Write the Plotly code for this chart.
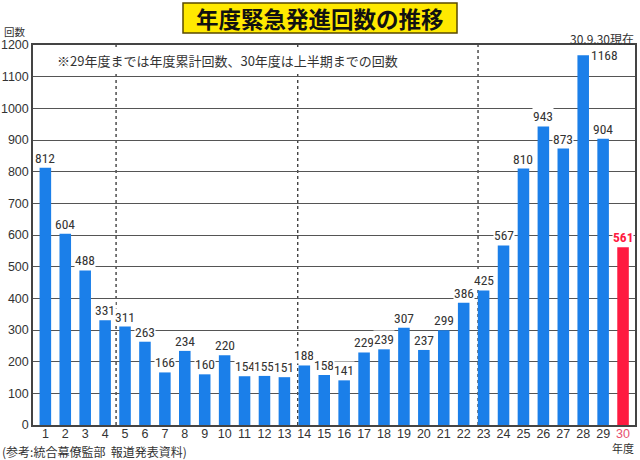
import plotly.graph_objects as go

years = list(range(1, 31))
counts = [812, 604, 488, 331, 311, 263, 166, 234, 160, 220, 154, 155, 151, 188, 158,
          141, 229, 239, 307, 237, 299, 386, 425, 567, 810, 943, 873, 1168, 904, 561]
tick_labels = [str(y) for y in years[:-1]] + ['<span style="color:#e8506e">30</span>']
divider_positions = [4.55, 13.67, 22.72]

BLUE = "#1b7fe9"
RED = "#ff1a40"
CJK = "Noto Sans CJK JP"
NUM = "Liberation Sans, Arial, sans-serif"
NARROW = "Liberation Sans Narrow, Arial Narrow, Roboto Condensed, Liberation Sans, sans-serif"

colors = [BLUE] * (len(counts) - 1) + [RED]

L, R, T, B = 33, 5, 45, 35
W, H = 640, 460
pw, ph = W - L - R, H - T - B
YMAX = 1200


def px(x):
    return (x - L) / pw


def py(y):
    return (H - B - y) / ph


fig = go.Figure()
fig.add_trace(go.Bar(x=years, y=counts, marker_color=colors, marker_line_width=0,
                     width=0.58, hoverinfo="x+y"))

annotations = []
for x, v in zip(years, counts):
    last = x == years[-1]
    font = dict(family=NARROW, size=13.5, color=RED if last else "#333333")
    text = ("<b>%d</b>" % v) if last else str(v)
    if v > YMAX * 0.92:
        # label next to the bar when the bar nearly reaches the top
        annotations.append(dict(x=x + 0.32, y=v, xref="x", yref="y", text=text,
                                showarrow=False, xanchor="left", yanchor="middle",
                                bgcolor="white", borderpad=0, font=font))
    else:
        annotations.append(dict(x=x, y=v, xref="x", yref="y", text=text,
                                showarrow=False, xanchor="center", yanchor="bottom",
                                yshift=1, bgcolor="white", borderpad=0, font=font))

annotations += [
    dict(x=px(320), y=py(18), xref="paper", yref="paper", xanchor="center", yanchor="middle",
         text="<b>年度緊急発進回数の推移</b>",
         showarrow=False, font=dict(family=CJK, size=22.5, color="#111111")),
    dict(x=px(55), y=py(60), xref="paper", yref="paper", xanchor="left", yanchor="middle",
         text="※29年度までは年度累計回数、30年度は上半期までの回数", showarrow=False,
         bgcolor="white", borderpad=1, font=dict(family=CJK, size=13, color="#333333")),
    dict(x=px(2), y=py(31), xref="paper", yref="paper", xanchor="left", yanchor="middle",
         text="回数", showarrow=False, font=dict(family=CJK, size=10.5, color="#333333")),
    dict(x=px(636), y=py(38), xref="paper", yref="paper", xanchor="right", yanchor="middle",
         text="30.9.30現在",
         showarrow=False, font=dict(family=CJK, size=12, color="#333333")),
    dict(x=30, y=py(448), xref="x", yref="paper", xanchor="center", yanchor="middle",
         text="年度", showarrow=False, font=dict(family=CJK, size=11, color="#333333")),
    dict(x=px(0), y=py(452), xref="paper", yref="paper", xanchor="left", yanchor="middle",
         text="(参考:統合幕僚監部  報道発表資料)", showarrow=False,
         font=dict(family=CJK, size=12, color="#333333")),
]

shapes = [dict(type="rect", xref="paper", yref="paper", x0=px(183), x1=px(457),
               y0=py(33), y1=py(3), fillcolor="#ffe900",
               line=dict(color="#5a4a00", width=1.5), layer="below")]
for d in divider_positions:
    shapes.append(dict(type="line", xref="x", yref="paper", x0=d, x1=d, y0=0, y1=1,
                       line=dict(color="#333333", width=1.3, dash="dot"), layer="below"))

fig.update_layout(
    width=W, height=H, margin=dict(l=L, r=R, t=T, b=B, autoexpand=False),
    paper_bgcolor="white", plot_bgcolor="white", showlegend=False,
    bargap=0.4, annotations=annotations, shapes=shapes,
    xaxis=dict(range=[0.38, 30.6], tickmode="array", tickvals=years, ticktext=tick_labels,
               showgrid=False, showline=True, linecolor="#444444", linewidth=1.5, mirror=True,
               ticks="", ticklabelstandoff=-4,
               tickfont=dict(family=NUM, size=12.5, color="#333333"),
               fixedrange=True, automargin=False),
    yaxis=dict(range=[0, YMAX], dtick=100, showgrid=True, gridcolor="#555555", gridwidth=1.3,
               showline=True, linecolor="#444444", linewidth=1.5, mirror=True, ticks="",
               tickfont=dict(family=NUM, size=12.5, color="#333333"), zeroline=False,
               fixedrange=True, automargin=False),
)

fig.write_html("out.html", config={"displayModeBar": False},
               post_script="document.body.style.margin='0';document.body.style.padding='0';")
